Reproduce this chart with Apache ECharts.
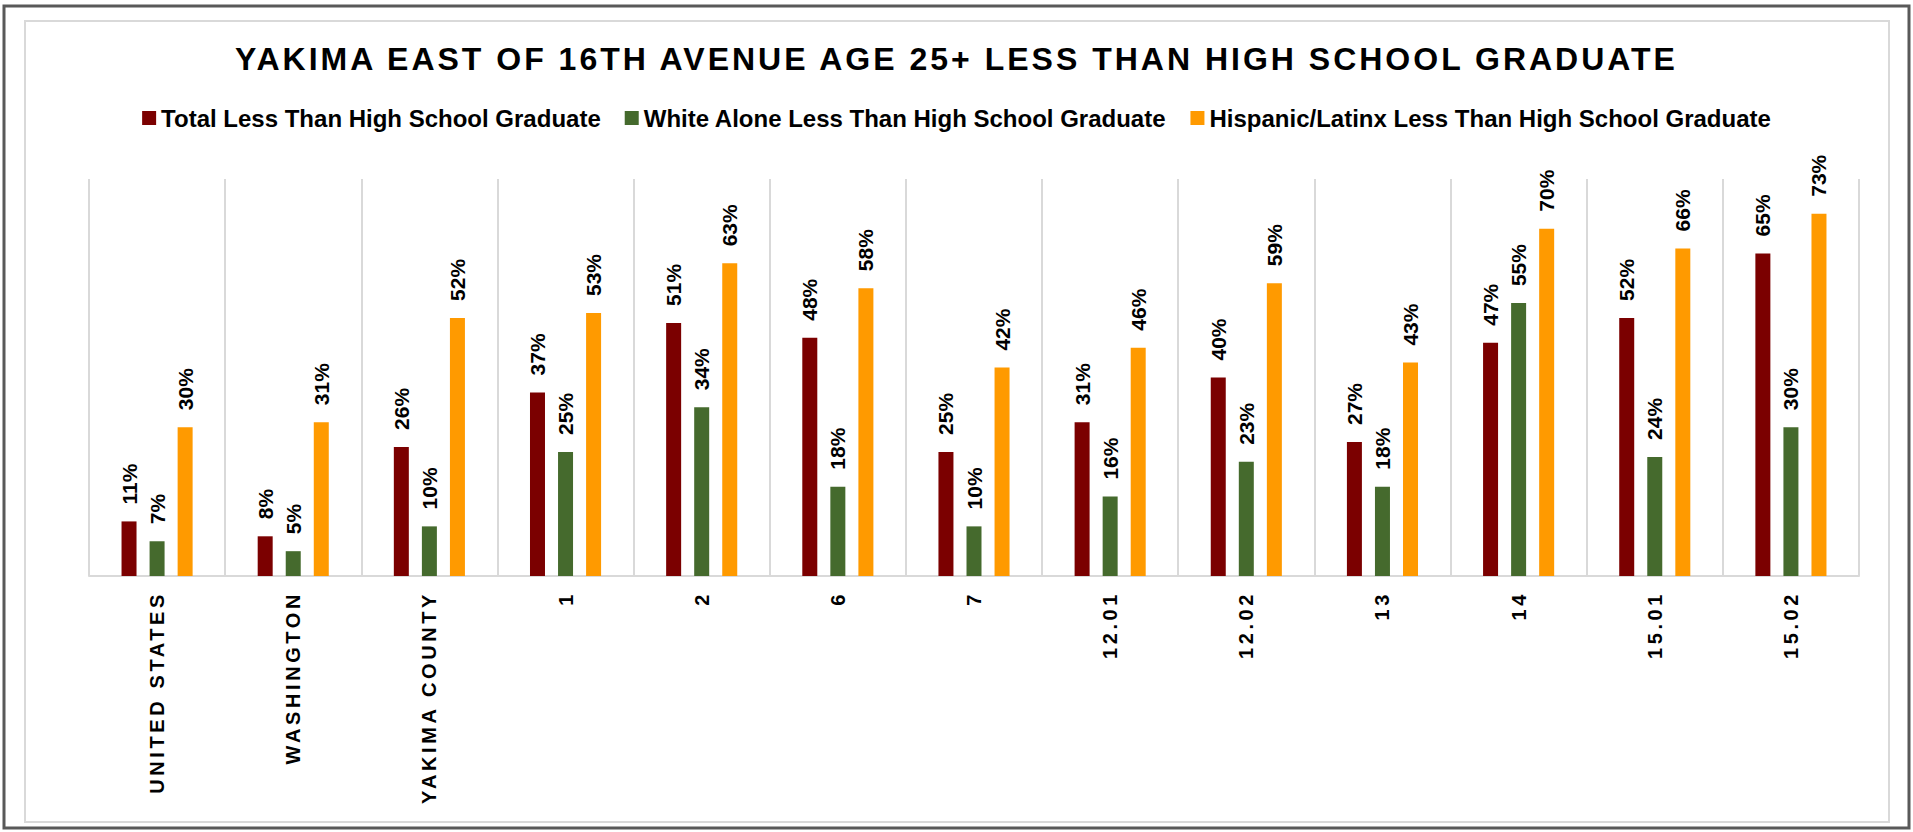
<!DOCTYPE html>
<html>
<head>
<meta charset="utf-8">
<script src="https://cdn.jsdelivr.net/npm/echarts@6/dist/echarts.min.js"></script>
<style>
  html, body { margin: 0; padding: 0; background: #fff; }
  #chart { width: 1913px; height: 832px; }
</style>
</head>
<body>
<div id="chart"></div>
<script>
const titleText = 'YAKIMA EAST OF 16TH AVENUE AGE 25+ LESS THAN HIGH SCHOOL GRADUATE'
const categories = ['UNITED STATES', 'WASHINGTON', 'YAKIMA COUNTY', '1', '2', '6', '7', '12.01', '12.02', '13', '14', '15.01', '15.02']
const seriesNames = [
  'Total Less Than High School Graduate',
  'White Alone Less Than High School Graduate',
  'Hispanic/Latinx Less Than High School Graduate'
]
const totalLess = [0.11, 0.08, 0.26, 0.37, 0.51, 0.48, 0.25, 0.31, 0.40, 0.27, 0.47, 0.52, 0.65]
const whiteLess = [0.07, 0.05, 0.10, 0.25, 0.34, 0.18, 0.10, 0.16, 0.23, 0.18, 0.55, 0.24, 0.30]
const hispanicLess = [0.30, 0.31, 0.52, 0.53, 0.63, 0.58, 0.42, 0.46, 0.59, 0.43, 0.70, 0.66, 0.73]
const colors = ['#7B0000', '#456A2D', '#FF9A00']

const FONT = '"Liberation Sans", Arial, sans-serif'

const dom = document.getElementById('chart')
const chart = echarts.init(dom, null, { renderer: 'svg' })

const barLabel = {
  show: true,
  position: 'top',
  rotate: 90,
  align: 'left',
  verticalAlign: 'middle',
  distance: 17,
  fontFamily: FONT,
  fontSize: 21,
  fontWeight: 'bold',
  color: '#000',
  formatter: p => Math.round(p.value * 100) + '%'
}

const makeBar = (name, data, color) => ({
  name: name,
  type: 'bar',
  data: data,
  barWidth: 15,
  barGap: '87%',
  itemStyle: { color: color },
  label: barLabel,
  silent: true
})

const option = {
  animation: false,
  backgroundColor: '#fff',
  title: {
    text: titleText,
    left: 'center',
    top: 38,
    textStyle: { fontFamily: FONT, fontSize: 32, fontWeight: 'bold', color: '#000' }
  },
  legend: {
    data: seriesNames,
    top: 101,
    left: 'center',
    itemWidth: 14,
    itemHeight: 14,
    itemGap: 24,
    icon: 'rect',
    selectedMode: false,
    textStyle: { fontFamily: FONT, fontSize: 24, fontWeight: 'bold', color: '#000' }
  },
  grid: { left: 89, right: 54, top: 179, bottom: 256 },
  xAxis: {
    type: 'category',
    data: categories,
    axisLine: { lineStyle: { color: '#d9d9d9', width: 2 } },
    axisTick: { show: false },
    splitLine: { show: true, lineStyle: { color: '#d9d9d9', width: 2 } },
    axisLabel: {
      interval: 0,
      rotate: 90,
      margin: 15,
      fontFamily: FONT,
      fontSize: 20,
      fontWeight: 'bold',
      color: '#000'
    }
  },
  yAxis: { type: 'value', min: 0, max: 0.8, show: false },
  graphic: [
    { type: 'rect', silent: true, z: -1, shape: { x: 4, y: 6, width: 1905, height: 822 },
      style: { fill: 'none', stroke: '#595959', lineWidth: 3 } },
    { type: 'rect', silent: true, z: -1, shape: { x: 25, y: 21, width: 1864, height: 801 },
      style: { fill: 'none', stroke: '#d9d9d9', lineWidth: 2 } }
  ],
  series: [
    makeBar(seriesNames[0], totalLess, colors[0]),
    makeBar(seriesNames[1], whiteLess, colors[1]),
    makeBar(seriesNames[2], hispanicLess, colors[2])
  ]
}

chart.setOption(option)

// Excel-style letter spacing on title and category labels
function spaceText() {
  dom.querySelectorAll('text').forEach(t => {
    const s = t.textContent
    if (s === titleText) t.style.letterSpacing = '3px'
    else if (categories.indexOf(s) >= 0) t.style.letterSpacing = '3.6px'
  })
}
chart.on('finished', spaceText)
spaceText()
</script>
</body>
</html>
